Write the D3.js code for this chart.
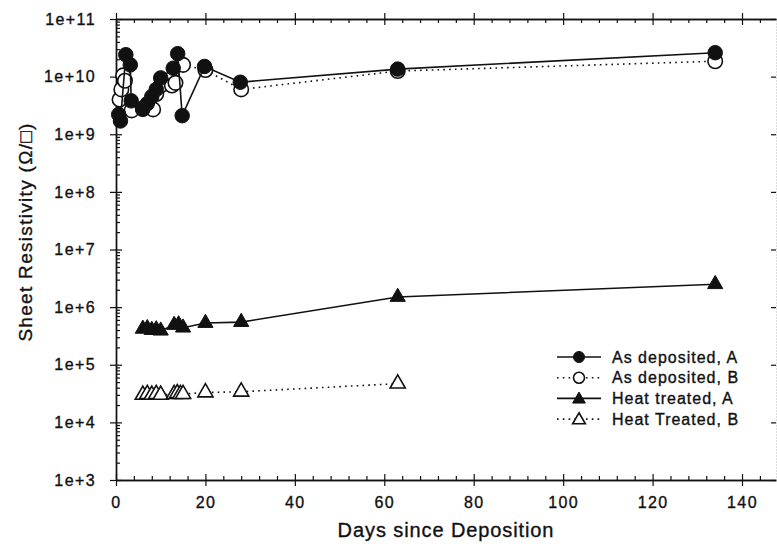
<!DOCTYPE html>
<html>
<head>
<meta charset="utf-8">
<script src="https://cdn.jsdelivr.net/npm/d3@7"></script>
<style>
  body { margin: 0; background: #fff; }
  svg { display: block; font-family: "Liberation Sans", Arial, Helvetica, sans-serif; }
  text { stroke: #111; stroke-width: 0.35px; }
</style>
</head>
<body>
<div id="chart"></div>
<script>
// ---- data ----
const asDepA_days = [0.6, 1.0, 2.2, 3.2, 3.4, 6, 7, 8, 9, 10, 12.8, 13.8, 14.8, 19.8, 27.8, 63, 134];
const asDepA_vals = [2.2e9, 1.7e9, 2.4e10, 1.6e10, 3.8e9, 2.7e9, 3.4e9, 4.5e9, 6e9, 9.5e9, 1.4e10, 2.5e10, 2.1e9, 1.5e10, 8.0e9, 1.35e10, 2.6e10];

const asDepB_days = [0.8, 1.2, 1.6, 2.0, 3.5, 6, 7, 8.3, 9, 10, 12.5, 13.3, 15, 20, 28, 63, 134];
const asDepB_vals = [4e9, 6e9, 1.05e10, 8.5e9, 2.6e9, 2.8e9, 3.2e9, 2.7e9, 5e9, 7e9, 7e9, 7.8e9, 1.6e10, 1.3e10, 6e9, 1.25e10, 1.85e10];

const heatA_days = [6, 7, 8, 9, 10, 13, 14, 15, 20, 28, 63, 134];
const heatA_vals = [4.2e5, 4.3e5, 4.0e5, 4.1e5, 3.9e5, 4.9e5, 5.0e5, 4.4e5, 5.3e5, 5.5e5, 1.5e6, 2.5e6];

const heatB_days = [6, 7, 8, 9, 10, 13, 13.7, 14.4, 15, 20, 28, 63];
const heatB_vals = [3.0e4, 3.1e4, 3.0e4, 3.1e4, 3.0e4, 3.1e4, 3.2e4, 3.1e4, 3.1e4, 3.3e4, 3.4e4, 4.7e4];

const legendLabels = ["As deposited, A", "As deposited, B", "Heat treated, A", "Heat Treated, B"];
const yTickValues = [1e3, 1e4, 1e5, 1e6, 1e7, 1e8, 1e9, 1e10, 1e11];
const xTickValues = [0, 20, 40, 60, 80, 100, 120, 140];

(() => {
  const width = 777, height = 556;
  const left = 116, right = 776, top = 19, bottom = 480;

  const svg = d3.select("#chart").append("svg")
    .attr("width", width)
    .attr("height", height);

  const x = d3.scaleLinear().domain([0, 147.6]).range([left, right]);
  const y = d3.scaleLog().domain([1e3, 1e11]).range([bottom, top]);

  const ink = "#111";

  // ------------------
  // Axes
  // ------------------
  const minorX = d3.range(0, 148, 4).filter(d => d % 20 !== 0);
  const minorY = [];
  yTickValues.slice(0, -1).forEach(p => {
    for (let k = 2; k <= 9; k++) minorY.push(p * k);
  });

  function styleAxis(sel) {
    sel.select(".domain").attr("stroke", ink).attr("stroke-width", 1.4);
    sel.selectAll(".tick line").attr("stroke", ink).attr("stroke-width", 1.2);
    sel.selectAll(".tick text")
      .attr("fill", ink)
      .style("font-size", "16px")
      .style("letter-spacing", "1.4px");
  }

  // bottom
  const gx = svg.append("g")
    .attr("transform", `translate(0,${bottom})`)
    .call(d3.axisBottom(x).tickValues(xTickValues).tickSize(6).tickPadding(8).tickSizeOuter(0));
  gx.selectAll(".tick line").attr("y1", -6).attr("y2", 6);
  styleAxis(gx);
  gx.selectAll(".tick text").attr("dy", "0.9em");
  svg.append("g")
    .attr("transform", `translate(0,${bottom})`)
    .call(d3.axisBottom(x).tickValues(minorX).tickSize(-4).tickFormat("").tickSizeOuter(0))
    .call(styleAxis);

  // top
  const gt = svg.append("g")
    .attr("transform", `translate(0,${top})`)
    .call(d3.axisTop(x).tickValues(xTickValues).tickFormat("").tickSizeOuter(0));
  gt.selectAll(".tick line").attr("y1", -6).attr("y2", 6);
  styleAxis(gt);
  svg.append("g")
    .attr("transform", `translate(0,${top})`)
    .call(d3.axisTop(x).tickValues(minorX).tickSize(-4).tickFormat("").tickSizeOuter(0))
    .call(styleAxis);

  // left
  const gy = svg.append("g")
    .attr("transform", `translate(${left},0)`)
    .call(d3.axisLeft(y).tickValues(yTickValues).tickFormat(d => "1e+" + Math.round(Math.log10(d)))
      .tickSize(6).tickPadding(14).tickSizeOuter(0));
  gy.selectAll(".tick line").attr("x1", -6).attr("x2", 6);
  styleAxis(gy);
  svg.append("g")
    .attr("transform", `translate(${left},0)`)
    .call(d3.axisLeft(y).tickValues(minorY).tickSize(-4).tickFormat("").tickSizeOuter(0))
    .call(styleAxis);

  // right (faint, at the cropped edge)
  const gr = svg.append("g")
    .attr("transform", `translate(${right},0)`)
    .call(d3.axisRight(y).tickValues(yTickValues).tickSize(-5).tickFormat("").tickSizeOuter(0));
  gr.select(".domain").attr("stroke", "#bbb").attr("stroke-width", 1).attr("stroke-dasharray", "1,2");
  gr.selectAll(".tick line").attr("stroke", ink).attr("stroke-width", 1.2);

  // ------------------
  // Axis titles
  // ------------------
  svg.append("text")
    .attr("x", 446)
    .attr("y", 537)
    .attr("text-anchor", "middle")
    .attr("fill", ink)
    .style("font-size", "20px")
    .style("letter-spacing", "0.9px")
    .text("Days since Deposition");

  svg.append("text")
    .attr("transform", `translate(32,${232}) rotate(-90)`)
    .attr("text-anchor", "middle")
    .attr("fill", ink)
    .style("font-size", "19px")
    .style("letter-spacing", "1.3px")
    .text("Sheet Resistivity (Ω/□)");

  // ------------------
  // Series
  // ------------------
  const series = [
    { days: asDepA_days, vals: asDepA_vals, marker: "circle", filled: true, dotted: false },
    { days: asDepB_days, vals: asDepB_vals, marker: "circle", filled: false, dotted: true },
    { days: heatA_days, vals: heatA_vals, marker: "triangle", filled: true, dotted: false },
    { days: heatB_days, vals: heatB_vals, marker: "triangle", filled: false, dotted: true }
  ];

  const line = d3.line().x(d => x(d[0])).y(d => y(d[1]));
  const circleSym = d3.symbol().type(d3.symbolCircle).size(165);
  const triSym = d3.symbol().type(d3.symbolTriangle).size(100);

  function styleLine(sel, s) {
    sel.attr("fill", "none")
      .attr("stroke", ink)
      .attr("stroke-width", 1.6)
      .attr("stroke-dasharray", s.dotted ? "1.6,4.2" : null);
  }

  function styleMarker(sel, s) {
    sel.attr("d", s.marker === "circle" ? circleSym : triSym)
      .attr("fill", s.filled ? ink : "#fff")
      .attr("stroke", ink)
      .attr("stroke-width", s.filled ? 1 : 1.6);
  }

  // draw the dotted series first so the solid ones sit on top
  [1, 3, 0, 2].forEach(i => {
    const s = series[i];
    const pts = s.days.map((d, j) => [d, s.vals[j]]);
    svg.append("path").datum(pts).attr("d", line).call(styleLine, s);
    svg.append("g").selectAll("path")
      .data(pts)
      .enter()
      .append("path")
      .attr("transform", d => `translate(${x(d[0])},${y(d[1])})`)
      .call(styleMarker, s);
  });

  // ------------------
  // Legend
  // ------------------
  const legend = svg.append("g").attr("transform", "translate(557,357)");
  const rowH = 20.7;
  series.forEach((s, i) => {
    const row = legend.append("g").attr("transform", `translate(0,${i * rowH})`);
    row.append("line")
      .attr("x1", 0).attr("x2", 44).attr("y1", 0).attr("y2", 0)
      .call(styleLine, s);
    row.append("path")
      .attr("transform", `translate(22,${s.marker === "triangle" ? 1 : 0})`)
      .call(styleMarker, s)
      .attr("d", s.marker === "circle" ? d3.symbol().type(d3.symbolCircle).size(95) : d3.symbol().type(d3.symbolTriangle).size(70));
    row.append("text")
      .attr("x", 55)
      .attr("y", 0)
      .attr("dy", "0.35em")
      .attr("fill", ink)
      .style("font-size", "16px")
      .style("letter-spacing", "1px")
      .text(legendLabels[i]);
  });
})();
</script>
</body>
</html>
